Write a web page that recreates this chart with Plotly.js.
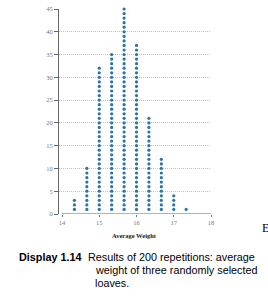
<!DOCTYPE html>
<html>
<head>
<meta charset="utf-8">
<script src="https://cdn.plot.ly/plotly-3.0.1.min.js"></script>
<style>html,body{margin:0;padding:0;background:#fff;}#chart{width:268px;height:302px;}</style>
</head>
<body>
<div id="chart"></div>
<script>
// Data
const averageWeights = [14.333, 14.667, 15, 15.333, 15.667, 16, 16.333, 16.667, 17, 17.333];
const counts = [3, 10, 32, 35, 45, 37, 21, 12, 4, 1];
const xTicks = [14, 15, 16, 17, 18];
const yTicks = [0, 5, 10, 15, 20, 25, 30, 35, 40, 45];
const xTitle = "Average Weight";
const captionLabel = "Display 1.14";
const captionLines = ["Results of 200 repetitions: average", "weight of three randomly selected", "loaves."];

// Expand counts into stacked dots
const dotX = [], dotY = [];
averageWeights.forEach((v, i) => {
  for (let k = 1; k <= counts[i]; k++) { dotX.push(v); dotY.push(k); }
});

const W = 268, H = 302;
const L = 59, R = 211, T = 9, B = 214;
const px = x => (x - L) / (R - L);
const py = y => (B - y) / (B - T);

const trace = {
  type: 'scatter', mode: 'markers', x: dotX, y: dotY,
  marker: {size: 3.2, color: '#2c74a4'},
  cliponaxis: false, hoverinfo: 'skip', showlegend: false
};

const annotations = [
  {text: '<b>' + xTitle + '</b>', x: px(134), y: py(235), font: {family: 'Liberation Serif', size: 6.5, color: '#222'}},
  {text: '<b>' + captionLabel + '</b>', x: px(18), y: py(257), xanchor: 'left', font: {family: 'Liberation Sans', size: 10.8, color: '#000'}},
  {text: captionLines[0], x: px(87), y: py(257), xanchor: 'left', font: {family: 'Liberation Sans', size: 10.8, color: '#000'}},
  {text: captionLines[1], x: px(94), y: py(270), xanchor: 'left', font: {family: 'Liberation Sans', size: 10.8, color: '#000'}},
  {text: captionLines[2], x: px(94), y: py(283), xanchor: 'left', font: {family: 'Liberation Sans', size: 10.8, color: '#000'}},
  {text: 'E', x: px(261), y: py(228), xanchor: 'left', font: {family: 'Liberation Serif', size: 12, color: '#000'}}
].map(a => Object.assign({xref: 'paper', yref: 'paper', showarrow: false, yanchor: 'middle', borderpad: 0}, a));

const layout = {
  width: W, height: H,
  margin: {l: L, r: W - R, t: T, b: H - B, pad: 0},
  paper_bgcolor: '#fff', plot_bgcolor: '#fff',
  xaxis: {
    range: [14 - 3 / 37.1, 18], tickvals: xTicks, ticktext: xTicks.map(String),
    showgrid: false, zeroline: false, showline: false,
    ticks: 'outside', ticklen: 2, tickcolor: '#777', tickwidth: 1,
    tickfont: {family: 'Liberation Serif', size: 6.5, color: '#777'}
  },
  yaxis: {
    range: [0, 45], tickvals: yTicks, ticktext: yTicks.map(String),
    showgrid: true, gridcolor: '#c6c6c6', griddash: '1px,1px', gridwidth: 1,
    zeroline: false, showline: true, linecolor: '#666', linewidth: 1,
    ticks: 'outside', ticklen: 4, tickcolor: '#666', tickwidth: 1,
    tickfont: {family: 'Liberation Serif', size: 6.5, color: '#777'}
  },
  shapes: [{type: 'line', xref: 'x', yref: 'y', x0: 14, x1: 18, y0: 0, y1: 0, line: {color: '#666', width: 1}}],
  annotations: annotations
};

Plotly.newPlot('chart', [trace], layout, {staticPlot: true, displayModeBar: false});
</script>
</body>
</html>
